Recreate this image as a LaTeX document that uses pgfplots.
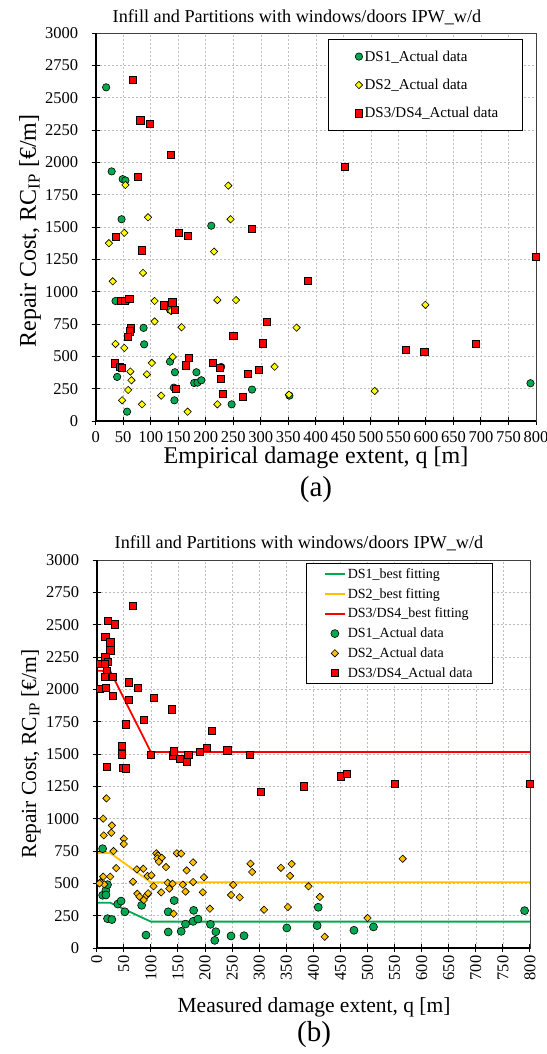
\documentclass[border=0pt]{standalone}
\usepackage{fontspec}
\setmainfont{Liberation Serif}
\usepackage{pgfplots}
\pgfplotsset{compat=1.18}
\definecolor{dsgreen}{RGB}{0,168,80}
\definecolor{dsyellow}{RGB}{255,255,0}
\definecolor{dsorange}{RGB}{255,192,0}
\definecolor{dsred}{RGB}{255,0,0}
\definecolor{gridgray}{RGB}{190,190,190}
\pgfplotsset{
  base/.style={
    scale only axis, anchor=south west,
    xmin=0, xmax=800, ymin=0, ymax=3000,
    xtick distance=50, ytick distance=250,
    grid=major,
    major grid style={gridgray, line width=0.6pt, dash pattern=on 2pt off 2pt},
    tick pos=left,
    tick align=center,
    major tick length=8pt,
    tick style={black, line width=1pt},
    axis line style={black!75, line width=0.8pt},
    /pgf/number format/assume math mode=true,
    /pgf/number format/1000 sep={},
    ticklabel style={font=\fontsize{16.5}{18}\selectfont},
    yticklabel style={xshift=-10pt},
    clip=false,
    legend cell align=left,
  },
  markleg/.style={legend image code/.code={\path[draw=none,fill=none] (-9pt,0pt) -- (0pt,0pt); \draw[##1] plot coordinates {(0pt,0pt)};}},
  markleg2/.style={legend image code/.code={\path[draw=none,fill=none] (0pt,0pt) -- (20pt,0pt); \draw[##1] plot coordinates {(10pt,0pt)};}},
  lineleg/.style={legend image code/.code={\draw[##1] (0pt,0pt) -- (20pt,0pt);}},
}
\begin{document}
\begin{tikzpicture}
\path[use as bounding box] (0pt,0pt) rectangle (546pt,-1054pt);
% ---------------- (a) ----------------
\begin{axis}[base, at={(95.7pt,-421pt)}, width=440.3pt, height=388pt,
  xticklabel style={yshift=-3pt},
  legend style={at={(0.970,0.984)}, anchor=north east, draw=black, line width=0.8pt,
    inner xsep=22pt, inner ysep=9pt, row sep=12.5pt, font=\fontsize{15}{17}\selectfont}]
\addplot[only marks, mark=*, mark size=3.7pt, mark options={fill=dsgreen, draw=black, line width=0.6pt}, markleg]
coordinates {(19,2580)(29,1930)(49,1870)(54,1860)(47,1560)(210,1510)(36,928)(56,930)
(135,860)(87,720)(88,593)(135,459)(228,418)(284,243)(247,129)(352,196)(39,341)(57,72)
(144,377)(142,258)(143,160)(183,377)(179,294)(185,297)(192,315)(790,292)};
\addlegendentry{DS1\_Actual data}
\addplot[only marks, mark=square*, mark size=2.6pt, mark options={rotate=45, fill=dsyellow, draw=black, line width=0.6pt}, markleg]
coordinates {(54,1825)(241,1820)(95,1575)(24,1375)(52,1455)(245,1560)(215,1310)(31,1080)
(86,1145)(107,928)(137,850)(221,935)(255,935)(107,770)(156,725)(365,722)(36,596)(52,565)
(102,449)(140,495)(325,420)(221,129)(351,204)(63,382)(65,315)(93,361)(59,240)(48,160)
(84,129)(119,196)(167,72)(599,898)(507,232)};
\addlegendentry{DS2\_Actual data}
\addplot[only marks, mark=square*, mark size=3.6pt, mark options={fill=dsred, draw=black, line width=0.6pt}, markleg]
coordinates {(67,2640)(81,2325)(98,2300)(136,2060)(76,1890)(37,1425)(84,1320)(151,1455)
(167,1432)(284,1485)(385,1085)(46,930)(53,932)(61,947)(124,895)(139,918)(144,857)(311,766)
(64,717)(62,694)(59,650)(250,658)(304,601)(35,446)(44,418)(47,413)(169,488)(164,431)
(213,451)(225,413)(228,328)(231,209)(267,186)(276,366)(297,395)(145,250)(453,1966)
(800,1267)(564,552)(597,534)(691,598)};
\addlegendentry{DS3/DS4\_Actual data}
\draw[black, line width=1.6pt] (rel axis cs:0,1) -- (rel axis cs:0,0) -- (rel axis cs:1,0);
\end{axis}
\node[font=\fontsize{18.2}{20}\selectfont] at (297pt,-17pt) {Infill and Partitions with windows/doors IPW\_w/d};
\node[rotate=90, font=\fontsize{24}{26}\selectfont] at (30pt,-231pt) {Repair Cost, RC\textsubscript{IP} [€/m]};
\node[font=\fontsize{24}{26}\selectfont] at (316pt,-458pt) {Empirical damage extent, q [m]};
\node[font=\fontsize{29}{31}\selectfont] at (316pt,-490pt) {(a)};
% ---------------- (b) ----------------
\begin{axis}[base, at={(96.7pt,-948pt)}, width=433.3pt, height=388pt,
  xticklabel style={rotate=90, anchor=east},
  legend style={at={(0.9146,0.9923)}, anchor=north east, draw=black, line width=0.8pt,
    inner xsep=18pt, inner ysep=3pt, row sep=4.5pt, font=\fontsize{14}{16}\selectfont}]
\addplot[dsgreen, line width=1.8pt, lineleg] coordinates {(0,350)(25,350)(100,204)(800,204)};
\addlegendentry{DS1\_best fitting}
\addplot[dsorange, line width=1.8pt, lineleg] coordinates {(0,735)(25,735)(100,508)(800,508)};
\addlegendentry{DS2\_best fitting}
\addplot[dsred, line width=1.8pt, lineleg] coordinates {(0,2145)(25,2140)(100,1515)(800,1515)};
\addlegendentry{DS3/DS4\_best fitting}
\addplot[only marks, mark=*, mark size=4pt, mark options={fill=dsgreen, draw=black, line width=0.6pt}, markleg2]
coordinates {(11,768)(11,408)(17,446)(17,410)(20,490)(20,227)(28,220)(39,340)(45,363)
(52,280)(83,330)(91,100)(132,280)(143,367)(132,124)(156,129)(164,185)(178,206)(179,291)
(187,224)(210,183)(220,126)(218,59)(248,93)(272,95)(351,155)(407,173)(409,315)(475,137)
(511,163)(790,289)};
\addlegendentry{DS1\_Actual data}
\addplot[only marks, mark=square*, mark size=2.6pt, mark options={rotate=45, fill=dsorange, draw=black, line width=0.6pt}, markleg2]
coordinates {(18,1157)(12,1000)(13,871)(28,948)(27,891)(50,845)(50,804)(31,750)(36,618)
(12,552)(25,552)(7,508)(14,492)(5,500)(67,513)(74,608)(86,613)(94,557)(101,562)(75,420)
(79,397)(87,371)(92,407)(95,423)(105,477)(110,732)(113,716)(112,693)(120,698)(115,667)
(128,626)(119,430)(134,459)(131,505)(140,497)(142,265)(148,732)(156,730)(166,600)
(178,662)(159,490)(164,436)(178,510)(198,547)(196,431)(209,304)(252,488)(248,410)
(264,392)(284,652)(287,588)(309,296)(340,620)(360,650)(357,558)(353,317)(391,477)
(412,395)(421,87)(500,232)(565,690)};
\addlegendentry{DS2\_Actual data}
\addplot[only marks, mark=square*, mark size=3.6pt, mark options={fill=dsred, draw=black, line width=0.6pt}, markleg2]
coordinates {(66,2643)(20,2530)(33,2503)(16,2408)(25,2364)(25,2302)(16,2250)(20,2214)
(6,2199)(15,2200)(18,2142)(15,2095)(30,2097)(6,2003)(17,2015)(30,1953)(60,2054)(76,2013)
(60,1920)(105,1933)(87,1767)(138,1845)(53,1729)(47,1566)(46,1498)(48,1395)(54,1390)
(18,1400)(100,1492)(140,1490)(143,1521)(153,1460)(166,1437)(169,1491)(190,1517)
(203,1545)(213,1682)(241,1529)(282,1496)(303,1207)(382,1250)(451,1327)(462,1347)
(550,1270)(800,1269)};
\addlegendentry{DS3/DS4\_Actual data}
\draw[black, line width=1.6pt] (rel axis cs:0,1) -- (rel axis cs:0,0) -- (rel axis cs:1,0);
\end{axis}
\node[font=\fontsize{18.2}{20}\selectfont] at (299pt,-543pt) {Infill and Partitions with windows/doors IPW\_w/d};
\node[rotate=90, font=\fontsize{21.5}{24}\selectfont] at (31pt,-754pt) {Repair Cost, RC\textsubscript{IP} [€/m]};
\node[font=\fontsize{21.5}{24}\selectfont] at (314pt,-1007pt) {Measured damage extent, q [m]};
\node[font=\fontsize{29}{31}\selectfont] at (314pt,-1035pt) {(b)};
\end{tikzpicture}
\end{document}
